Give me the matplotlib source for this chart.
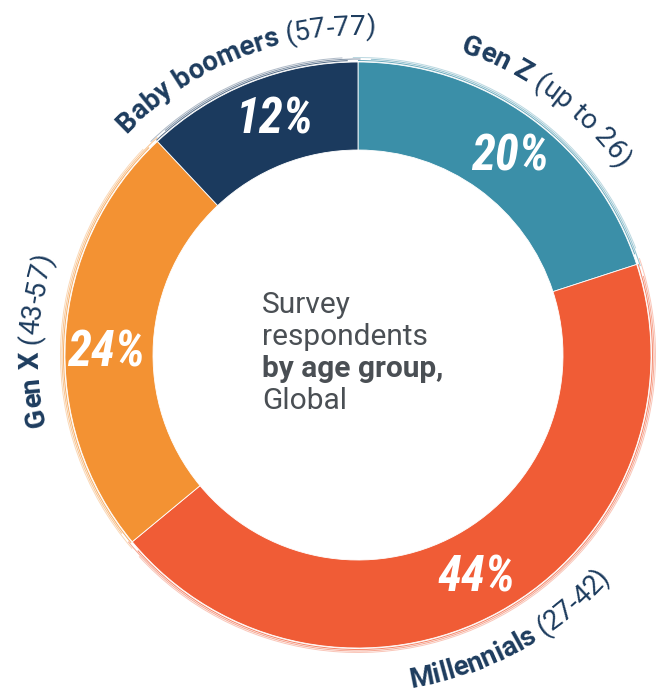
import numpy as np
import matplotlib
matplotlib.use("Agg")
import matplotlib.pyplot as plt
from matplotlib.font_manager import FontProperties, findfont, get_font
from matplotlib.patches import Arc

# ---- data ----
groups = ["Gen Z", "Millennials", "Gen X", "Baby boomers"]
age_ranges = ["(up to 26)", "(27-42)", "(43-57)", "(57-77)"]
shares = [20, 44, 24, 12]
pct_labels = ["20%", "44%", "24%", "12%"]
colors = ["#3B8FA8", "#F05C36", "#F39233", "#1B3A5E"]
center_lines = ["Survey", "respondents", "by age group,", "Global"]
center_bold = [False, False, True, False]

# ---- layout / style ----
W, H = 658, 695
NAVY = "#1D3C5E"
GREY = "#4A4F54"
cx, cy = 358, 340
R_out, R_in = 293, 205

fig = plt.figure(figsize=(W / 100, H / 100), dpi=100)
ax = fig.add_axes([0, 0, 1, 1])
ax.pie(shares, colors=colors, startangle=90, counterclock=False,
       radius=R_out, center=(cx, cy),
       wedgeprops=dict(width=R_out - R_in, edgecolor="white", linewidth=0.6))
ax.set_xlim(0, W)
ax.set_ylim(0, H)
ax.set_aspect("equal")
ax.axis("off")

total = float(sum(shares))
starts = np.concatenate([[0], np.cumsum(shares)[:-1]]) / total * 360
ends = np.cumsum(shares) / total * 360
mids = (starts + ends) / 2

# sketchy outer strokes
for a0, a1, col in zip(starts, ends, colors):
    for k, (dr, sh) in enumerate([(1.5, 1.0), (3.0, -1.5), (4.5, 2.0)]):
        arc = Arc((cx, cy), 2 * (R_out + dr), 2 * (R_out + dr),
                  theta1=90 - a1 + sh + 1, theta2=90 - a0 + sh - 1,
                  color=col, lw=0.7, alpha=0.75 - 0.2 * k)
        ax.add_patch(arc)

# percentages
pct_font = dict(family=["Roboto Condensed", "DejaVu Sans"], stretch="condensed",
                fontsize=35, fontweight="bold", style="italic", color="white")
pct_nudge = [(6, -3), (-2, -5), (-3, -14), (8, 3)]  # (dx, dy) in pixels
R_mid = (R_out + R_in) / 2
for m, lab, (ndx, ndy) in zip(mids, pct_labels, pct_nudge):
    th = np.radians(m)
    ax.text(cx + R_mid * np.sin(th) + ndx, cy + R_mid * np.cos(th) + ndy, lab,
            ha="center", va="center", **pct_font)

# curved labels
bold_prop = FontProperties(family="Roboto", weight="bold", size=20)
reg_prop = FontProperties(family="Roboto", weight="normal", size=20)


def advances(text, prop):
    font = get_font(findfont(prop))
    font.set_size(prop.get_size_in_points(), 100)
    return [font.load_char(ord(ch)).linearHoriAdvance / 65536 for ch in text]


def curved(segments, theta_c, R, flip):
    chars = []
    for text, prop in segments:
        for ch, a in zip(text, advances(text, prop)):
            chars.append((ch, prop, a))
    tot = sum(a for _, _, a in chars)
    span = tot / R
    tc = np.radians(theta_c)
    pos = 0.0
    for ch, prop, a in chars:
        s = (pos + a / 2) / R
        if not flip:
            th = tc - span / 2 + s
            rot = -np.degrees(th)
        else:
            th = tc + span / 2 - s
            rot = 180 - np.degrees(th)
        ax.text(cx + R * np.sin(th), cy + R * np.cos(th), ch,
                fontproperties=prop, color=NAVY, rotation=rot,
                rotation_mode="anchor", ha="center", va="baseline")
        pos += a


label_angle_shift = [0.5, 0, -1, 0]
for g, r, m, d in zip(groups, age_ranges, mids, label_angle_shift):
    flip = 90 < m < 270
    R = 337 if flip else 320
    curved([(g, bold_prop), (" " + r, reg_prop)], m + d, R, flip)

# center text
baselines = [313, 345, 377, 409]
for line, b, bold in zip(center_lines, baselines, center_bold):
    ax.text(262, H - b, line, ha="left", va="baseline", family="Roboto",
            fontsize=21.5, fontweight="bold" if bold else "normal", color=GREY)

fig.savefig("out.png", dpi=100)
